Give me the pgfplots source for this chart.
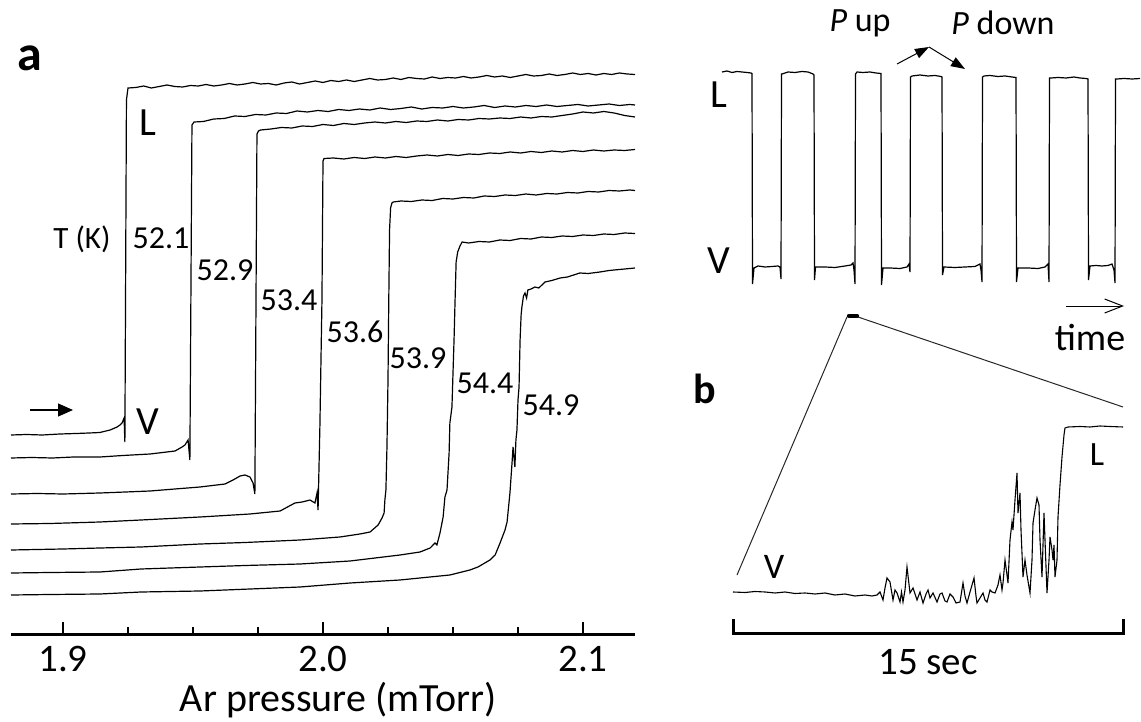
\documentclass[border=0pt]{standalone}
\usepackage{fontspec}
\setmainfont{Carlito}
\usepackage{pgfplots}
\pgfplotsset{compat=1.18}
\usetikzlibrary{arrows.meta}
\newcommand{\fs}[1]{\fontsize{#1}{#1}\selectfont}

\begin{document}
\begin{tikzpicture}
\path[use as bounding box] (0,0) rectangle (570.5pt,361pt);

% ---------------- panel a: traces ----------------
\begin{axis}[at={(5.5pt,43.5pt)}, anchor=south west, scale only axis,
  width=312pt, height=297.5pt, xmin=1.88, xmax=2.12, ymin=40, ymax=635,
  y dir=reverse, hide axis, clip=false]
% T = 52.1
\addplot[black, line width=0.6pt] table {
1.8800 435
1.8860 434.5
1.8920 435
1.8988 434
1.9050 433.5
1.9100 433
1.9142 432.5
1.9181 430
1.9208 427
1.9219 425
1.9227 423
1.9235 418
1.9238 442
1.9244 100
1.9250 88
1.9280 87.5
1.9310 86
1.9340 88
1.9370 86.5
1.9400 85
1.9430 86.5
1.9460 87
1.9490 85.5
1.9520 86
1.9550 84.5
1.9580 86
1.9610 85
1.9640 83.5
1.9670 85
1.9700 84
1.9730 82.5
1.9760 84
1.9790 83.5
1.9820 85
1.9850 83
1.9880 82
1.9910 84
1.9940 82.5
1.9970 81
2.0000 82.5
2.0030 80.5
2.0060 81.5
2.0090 80
2.0120 81.5
2.0150 80
2.0180 78.5
2.0210 80
2.0240 79.5
2.0270 78
2.0300 79.5
2.0330 77.5
2.0360 78.5
2.0390 79
2.0420 77
2.0450 78.5
2.0480 77.5
2.0510 78
2.0540 76.5
2.0570 78
2.0600 77
2.0630 75.5
2.0660 77
2.0690 76
2.0720 77.5
2.0750 76
2.0780 74.5
2.0810 76
2.0840 75.5
2.0870 74
2.0900 75.5
2.0930 74.5
2.0960 73
2.0990 74.5
2.1020 73.5
2.1050 75
2.1080 73.5
2.1110 74.5
2.1140 73
2.1170 74
2.1200 74.5
};
% T = 52.9
\addplot[black, line width=0.6pt] table {
1.8800 458
1.8880 457.5
1.8960 458
1.9040 457
1.9142 457
1.9230 455.5
1.9335 454
1.9431 451
1.9458 447
1.9469 445
1.9481 440
1.9488 460
1.9496 125
1.9504 122
1.9540 121.5
1.9580 119
1.9620 118.5
1.9660 116
1.9700 116.5
1.9740 114.5
1.9780 115
1.9820 113
1.9860 113.5
1.9900 111
1.9940 112
1.9980 110.5
2.0020 111.5
2.0060 109.5
2.0100 110.5
2.0140 109
2.0180 110
2.0220 108
2.0260 109.5
2.0300 108.5
2.0340 107
2.0380 109
2.0420 107.5
2.0460 108
2.0500 106.5
2.0540 108
2.0580 107
2.0620 105.5
2.0660 107.5
2.0700 106
2.0740 107
2.0780 105.5
2.0820 106.5
2.0860 105
2.0900 106.5
2.0940 105.5
2.0980 104.5
2.1020 106
2.1060 105
2.1100 104
2.1140 105.5
2.1180 104.5
2.1200 105
};
% T = 53.4
\addplot[black, line width=0.6pt] table {
1.8800 494
1.8900 493.5
1.9000 494
1.9142 493
1.9240 492
1.9335 491
1.9430 489
1.9527 487
1.9623 484
1.9654 480
1.9681 476
1.9700 475
1.9719 477
1.9731 483
1.9738 494
1.9746 134
1.9752 131
1.9760 130
1.9800 129
1.9840 127.5
1.9880 128
1.9920 126
1.9960 126.5
2.0000 124.5
2.0040 125.5
2.0080 123.5
2.0120 124.5
2.0160 123
2.0200 122
2.0240 123
2.0280 121.5
2.0320 122.5
2.0360 121
2.0400 121.5
2.0440 120
2.0480 121
2.0520 119.5
2.0560 120
2.0600 118.5
2.0640 119
2.0680 118
2.0720 118.5
2.0760 117
2.0800 118
2.0840 116.5
2.0880 117
2.0920 115.5
2.0960 114
2.1000 112
2.1040 113
2.1080 111.5
2.1120 113
2.1160 115.5
2.1200 117
};
% T = 53.6
\addplot[black, line width=0.6pt] table {
1.8800 524
1.8950 523.5
1.9142 522
1.9300 520
1.9527 517
1.9719 514
1.9835 511
1.9892 503
1.9920 502
1.9950 500
1.9969 503
1.9977 493
1.9981 510
1.9988 427
1.9996 300
2.0000 161
2.0004 158.5
2.0040 158
2.0080 159
2.0120 157.5
2.0160 158.5
2.0200 157
2.0240 158
2.0280 156.5
2.0320 157.5
2.0360 156
2.0400 155
2.0440 156
2.0480 154.5
2.0520 155.5
2.0560 154
2.0600 154.5
2.0640 153
2.0680 153.5
2.0720 152
2.0760 153
2.0800 151.5
2.0840 152.5
2.0880 151
2.0920 152
2.0960 150.5
2.1000 151.5
2.1040 150
2.1080 151
2.1120 150
2.1160 150.5
2.1200 149.5
};
% T = 53.9
\addplot[black, line width=0.6pt] table {
1.8800 550
1.8900 549.5
1.9000 549
1.9142 548
1.9300 547
1.9527 544
1.9700 542.5
1.9912 540
2.0065 537
2.0142 534
2.0181 532
2.0212 525
2.0227 518
2.0235 513
2.0238 500
2.0242 490
2.0246 447
2.0250 380
2.0253 300
2.0256 230
2.0260 208
2.0265 203
2.0270 202
2.0300 201
2.0340 201.5
2.0380 200
2.0420 200.5
2.0460 198.5
2.0500 199
2.0540 197.5
2.0580 198
2.0620 196
2.0660 196.5
2.0700 195
2.0740 195.5
2.0780 194
2.0820 195
2.0860 193.5
2.0900 194
2.0940 192.5
2.0980 193
2.1020 191.5
2.1060 192
2.1100 190.5
2.1140 191
2.1180 190
2.1200 190.5
};
% T = 54.4
\addplot[black, line width=0.6pt] table {
1.8800 573
1.8950 572.5
1.9142 572
1.9300 569
1.9527 567
1.9700 565.5
1.9912 564
2.0104 561
2.0296 555
2.0373 552
2.0412 548
2.0431 543
2.0438 545
2.0450 533
2.0462 517
2.0469 497
2.0477 490
2.0485 453
2.0488 423
2.0496 407
2.0500 373
2.0504 340
2.0508 300
2.0512 262
2.0518 252
2.0527 246
2.0535 242
2.0560 243
2.0600 241.5
2.0640 242
2.0680 240
2.0720 240.5
2.0760 238.5
2.0800 239
2.0840 237
2.0880 237.5
2.0920 236
2.0960 236.5
2.1000 235
2.1040 235.5
2.1080 234
2.1120 234.5
2.1160 233
2.1200 233.5
};
% T = 54.9
\addplot[black, line width=0.6pt] table {
1.8800 595
1.8950 594.5
1.9142 594
1.9300 592
1.9527 591
1.9912 587
2.0104 583
2.0296 580
2.0488 575
2.0565 570
2.0596 567
2.0642 560
2.0662 555
2.0681 543
2.0700 530
2.0708 522
2.0719 493
2.0727 463
2.0731 447
2.0738 467
2.0742 440
2.0746 430
2.0750 400
2.0754 387
2.0758 340
2.0762 315
2.0765 307
2.0771 296
2.0777 293
2.0783 298
2.0788 290
2.0800 289
2.0815 287
2.0830 288
2.0854 282
2.0880 280.5
2.0912 278
2.0940 277
2.0988 273
2.1020 273.5
2.1065 272
2.1100 270.5
2.1140 269.5
2.1200 268
};
\end{axis}

% ---------------- panel a: pressure axis ----------------
\begin{axis}[at={(5.5pt,43.5pt)}, anchor=south west, scale only axis,
  width=312pt, height=297.5pt, xmin=1.88, xmax=2.12, ymin=0, ymax=1,
  axis x line*=bottom, axis y line=none,
  xtick={1.9,2.0,2.1}, minor x tick num=3, tick align=inside,
  major tick length=6.5pt, minor tick length=4pt,
  major tick style={black, line width=1.3pt},
  minor tick style={black, line width=1.3pt},
  x axis line style={black, line width=1.5pt},
  xticklabel style={font=\fs{19.5}, yshift=-2pt},
  /pgf/number format/.cd, fixed, fixed zerofill, precision=1, assume math mode=true]
\addplot[draw=none] coordinates {(1.9,0.5)};
\end{axis}

% ---------------- panel b: pulse train ----------------
\begin{axis}[at={(361pt,216pt)}, anchor=south west, scale only axis,
  width=209pt, height=115pt, xmin=0, xmax=418, ymin=60, ymax=290,
  y dir=reverse, hide axis, clip=false]
\addplot[black, line width=0.6pt] table {
0 72
5 71
10 72.5
15 71.5
20 72
25 72.5
29 73
30 73.5
30.5 284
32 268
36 266
43 267
50 266.5
56 266
58 267
59 279
59.5 74
60 74
66 72
73 72.5
80 71.5
86 72
91 74
92 75
92.5 280
93.5 267
103 267
113 267.5
123 266
129 265
131 263
132 270
133 284
133.5 74
135 72
141 72.5
148 72
154 73
159 73.5
159.5 285
161 268
168 268
178 268.5
185 267
187 264
188 272
188.5 77
190 76
198 75
206 76
213 75.5
219 76.5
220 77
220.5 275
222 267
233 267.5
243 267
253 266.5
258 264
259 270
260 282
260.5 77
262 76
268 75.5
276 76.5
283 76
290 77
294 77.5
294.5 282
296 268
306 268
316 268.5
323 267
326 264
327 282
327.5 78
329 78
336 77.5
344 78
352 77
358 78
364 78.5
366 79
366.5 280
368 266
374 265.5
380 266
386 265.5
390 264
392 270
393 283
393.5 79
395 79
402 78.5
410 79
418 78.5
};
\end{axis}

% ---------------- panel b: 15 s transition ----------------
\begin{axis}[at={(366.5pt,51pt)}, anchor=south west, scale only axis,
  width=195pt, height=110pt, xmin=0, xmax=390, ymin=400, ymax=620,
  y dir=reverse, hide axis, clip=false]
\addplot[black, line width=0.55pt] table {
0 592
12 592.5
22 591.5
32 592
42 593
52 592
62 593.5
72 593
82 594
92 593
102 595
112 594
122 596
132 595
139 596
144 595
147 592
150 600
152 588
154 578
157 582
160 600
162 590
164 593
167 602
168.5 592
170 602
172 590
174 567
177 593
180 588
184 600
187 592
190 603
193 594
195 590
197 598
200 593
204 602
207 594
209 593
212 601
214 602
217 594
220 597
223 603
227 602
230 583
232 596
234 603
237 592
239 585
241 578
243 596
244 603
247 598
250 593
252 600
254 602
257 590
259 592
262 593
265 585
267 575
269 590
270 583
272 560
274 575
275 583
277 540
279 522
280 530
282 500
284 473
285 513
287 493
288 530
290 577
292 560
294 575
297 593
299 560
300 523
302 510
304 498
306 505
307 540
309 577
311 513
312 540
314 593
316 560
317 537
319 550
320 560
321 545
322 577
324 560
325 517
327 485
329 457
331 435
332 428
335 427
347 426.5
357 427
367 426
377 426.5
390 427
};
\end{axis}

% ---------------- annotations (pixel frame) ----------------
\begin{axis}[at={(0pt,0pt)}, anchor=south west, scale only axis,
  width=570.5pt, height=361pt, xmin=0, xmax=1141, ymin=0, ymax=722,
  y dir=reverse, hide axis, clip=false]
\addplot[draw=none] coordinates {(0,0)};
% panel a
\node[font=\fs{25}\bfseries] at (axis cs:30,58) {a};
\node[font=\fs{20}] at (axis cs:148,123) {L};
\node[font=\fs{20}] at (axis cs:148,422) {V};
\draw[line width=0.6pt, -{Triangle[length=7.5pt,width=6.5pt]}] (axis cs:30,410) -- (axis cs:73,410);
\node[font=\fs{15.5}] at (axis cs:82,239) {T (K)};
\node[font=\fs{16}] at (axis cs:161,238) {52.1};
\node[font=\fs{16}] at (axis cs:225,270) {52.9};
\node[font=\fs{16}] at (axis cs:289,300) {53.4};
\node[font=\fs{16}] at (axis cs:355,332) {53.6};
\node[font=\fs{16}] at (axis cs:418,358) {53.9};
\node[font=\fs{16}] at (axis cs:485,383) {54.4};
\node[font=\fs{16}] at (axis cs:551,405) {54.9};
\node[font=\fs{20}] at (axis cs:338,700) {Ar pressure (mTorr)};
% panel b top
\node[font=\fs{20}] at (axis cs:719,95) {L};
\node[font=\fs{20}] at (axis cs:719,261) {V};
\node[font=\fs{17}] at (axis cs:860,23) {\textit{P} up};
\node[font=\fs{17}] at (axis cs:1003,23) {\textit{P} down};
\draw[line width=0.5pt, -{Triangle[length=7pt,width=5pt]}] (axis cs:897,64) -- (axis cs:929,47);
\draw[line width=0.5pt, -{Triangle[length=7pt,width=5pt]}] (axis cs:929,47) -- (axis cs:965,69);
\draw[line width=0.5pt, -{Straight Barb[length=9pt,width=7pt]}] (axis cs:1066,306) -- (axis cs:1124,306);
\node[font=\fs{19}] at (axis cs:1090,338) {time};
% zoom marker and connectors
\draw[black!85, line width=0.5pt] (axis cs:847,317) -- (axis cs:737,575);
\draw[black!85, line width=0.5pt] (axis cs:858,317) -- (axis cs:1123,407);
\draw[black, line width=2.2pt, line cap=round] (axis cs:849,316) -- (axis cs:857,316);
% panel b bottom
\node[font=\fs{21}\bfseries] at (axis cs:705,389) {b};
\node[font=\fs{18}] at (axis cs:774,567) {V};
\node[font=\fs{17}] at (axis cs:1097,455) {L};
\draw[line width=1.5pt] (axis cs:733,619) -- (axis cs:733,633) -- (axis cs:1123,633) -- (axis cs:1123,619);
\node[font=\fs{19.5}] at (axis cs:928,662) {15 sec};
\end{axis}
\end{tikzpicture}
\end{document}
